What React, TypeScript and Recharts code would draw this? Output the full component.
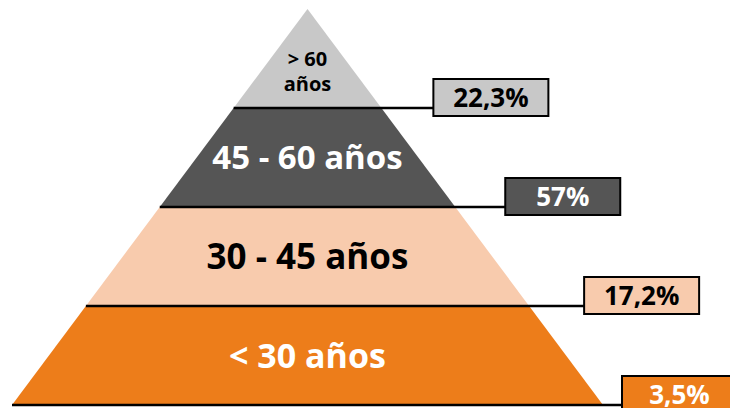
import { Funnel, FunnelChart } from "recharts"

// age groups from the base of the pyramid up to the apex
const groups = ["< 30 años", "30 - 45 años", "45 - 60 años", "> 60 años"]
const shares = [3.5, 17.2, 57, 22.3]
// relative width of each step (base = 4, apex = 0)
const tiers = [4, 3, 2, 1]

const fills = ["#ED7D1A", "#F8CBAD", "#555555", "#C8C8C8"]
const inks = ["#FFFFFF", "#000000", "#FFFFFF", "#000000"]
const nameSizes = [34, 35, 33, 20]
const boxGaps = [19, 55, 50, 52]

const data = groups.map((name, i) => ({ name, value: tiers[i], share: shares[i] }))

const fmt = (v: number) => `${String(v).replace(".", ",")}%`

const Layer = (props: any) => {
  const { x, y, upperWidth, lowerWidth, height } = props
  const name = props.payload?.name ?? props.name
  const i = groups.indexOf(name)
  const bl = x + (upperWidth - lowerWidth) / 2
  const br = bl + lowerWidth
  const by = y + height
  const cx = x + upperWidth / 2
  const boxX = br + boxGaps[i]
  const boxY = by - 29
  const boxW = 115
  const boxH = 37
  const size = nameSizes[i]
  const apex = upperWidth < 1

  const points = `${x},${y} ${x + upperWidth},${y} ${br},${by} ${bl},${by}`
  const cut = name.lastIndexOf(" ")

  return (
    <g>
      <polygon points={points} fill={fills[i]} stroke="none" />
      {apex ? (
        <>
          <text x={cx} y={y + 57} textAnchor="middle" fill={inks[i]} fontSize={size} fontWeight={700}>
            {name.slice(0, cut)}
          </text>
          <text x={cx} y={y + 82} textAnchor="middle" fill={inks[i]} fontSize={size} fontWeight={700}>
            {name.slice(cut + 1)}
          </text>
        </>
      ) : (
        <text x={cx} y={y + height / 2 + size * 0.36} textAnchor="middle" fill={inks[i]} fontSize={size} fontWeight={700}>
          {name}
        </text>
      )}
      <line x1={bl} y1={by} x2={boxX} y2={by} stroke="#000" strokeWidth={2.5} />
      <rect x={boxX} y={boxY} width={boxW} height={boxH} fill={fills[i]} stroke="#000" strokeWidth={2} />
      <text x={boxX + boxW / 2} y={boxY + 28} textAnchor="middle" fill={inks[i]} fontSize={26} fontWeight={700}>
        {fmt(props.payload?.share ?? shares[i])}
      </text>
    </g>
  )
}

export default function App() {
  return (
    <div style={{ position: "absolute", left: 0, top: 0, fontFamily: "'Open Sans', sans-serif" }}>
      <FunnelChart width={730} height={408} margin={{ top: 9, right: 127, bottom: 3, left: 12 }}>
        <Funnel
          data={data}
          dataKey="value"
          nameKey="name"
          reversed
          lastShapeType="triangle"
          shape={(p: any) => <Layer {...p} />}
          isAnimationActive={false}
        />
      </FunnelChart>
    </div>
  )
}
